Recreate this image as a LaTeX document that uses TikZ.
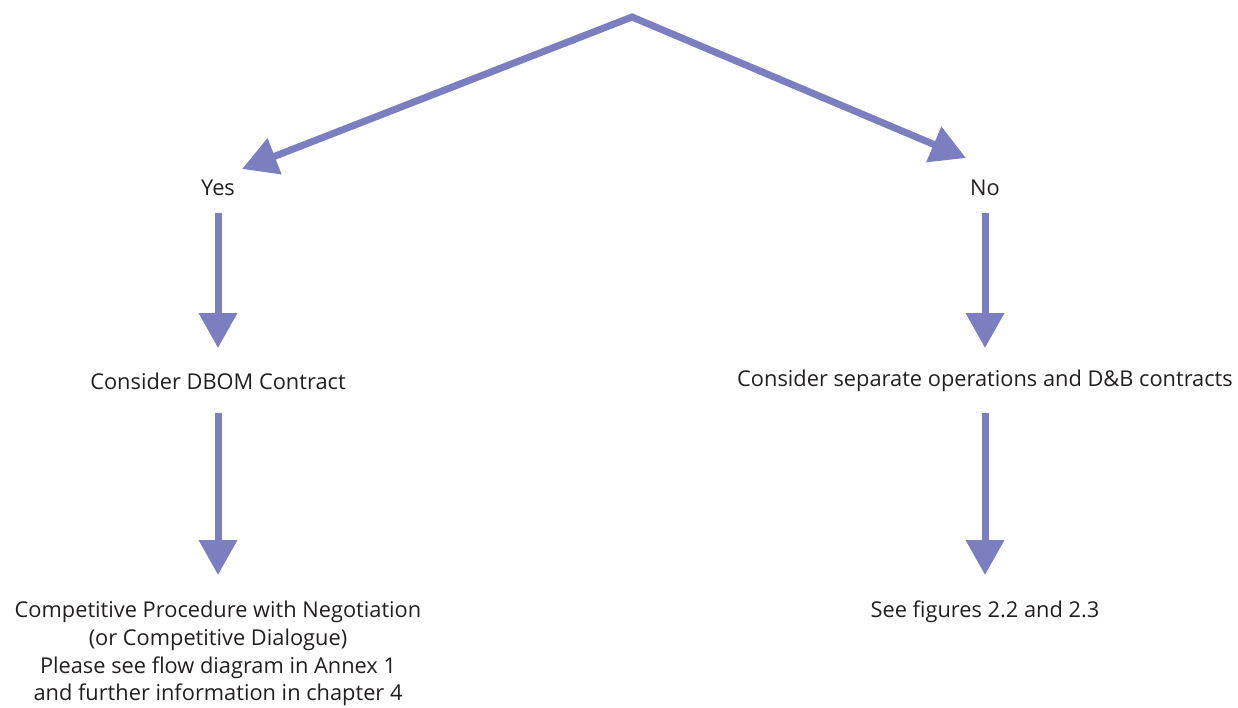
\documentclass[tikz,border=0pt]{standalone}
\usepackage{fontspec}
\setmainfont{Open Sans}
\usetikzlibrary{arrows.meta}
\definecolor{flowline}{RGB}{123,126,191}
\definecolor{flowtext}{RGB}{35,31,32}
\begin{document}
\begin{tikzpicture}[x=1pt,y=-1pt,
  lbl/.style={text=flowtext,font=\fontsize{21.8}{27.7}\selectfont,inner sep=0pt,align=center},
  arr/.style={draw=flowline,line width=7pt,-{Triangle[length=35pt,width=37pt]}},
  split/.style={draw=flowline,line width=7pt,line join=miter,
    {Triangle[length=35pt,width=37pt]}-{Triangle[length=35pt,width=37pt]}}]
\useasboundingbox (0,0) rectangle (1238,708);
% decision apex and the two branch tips
\coordinate (top) at (632,17);
\coordinate (yestip) at (242,169);
\coordinate (notip) at (966,158);
\draw[split] (yestip) -- (top) -- (notip);
% labels
\node[lbl] (yes) at (218,188) {Yes};
\node[lbl] (no) at (985,188) {No};
\node[lbl] (dbom) at (218,381) {Consider DBOM Contract};
\node[lbl] (sep) at (985,381) {Consider separate operations and D\&B contracts};
\node[lbl,anchor=north] (comp) at (218,601) {Competitive Procedure with Negotiation\\(or Competitive Dialogue)\\Please see flow diagram in Annex 1\\and further information in chapter 4};
\node[lbl,anchor=north] (figs) at (985,601) {See figures 2.2 and 2.3};
% vertical flow arrows
\draw[arr,shorten <=25pt,shorten >=33pt] (yes.center) -- (dbom.center);
\draw[arr,shorten <=25pt,shorten >=33pt] (no.center) -- (sep.center);
\draw[arr,shorten <=32pt,shorten >=26pt] (dbom.center) -- (comp.north);
\draw[arr,shorten <=32pt,shorten >=26pt] (sep.center) -- (figs.north);
\end{tikzpicture}
\end{document}
